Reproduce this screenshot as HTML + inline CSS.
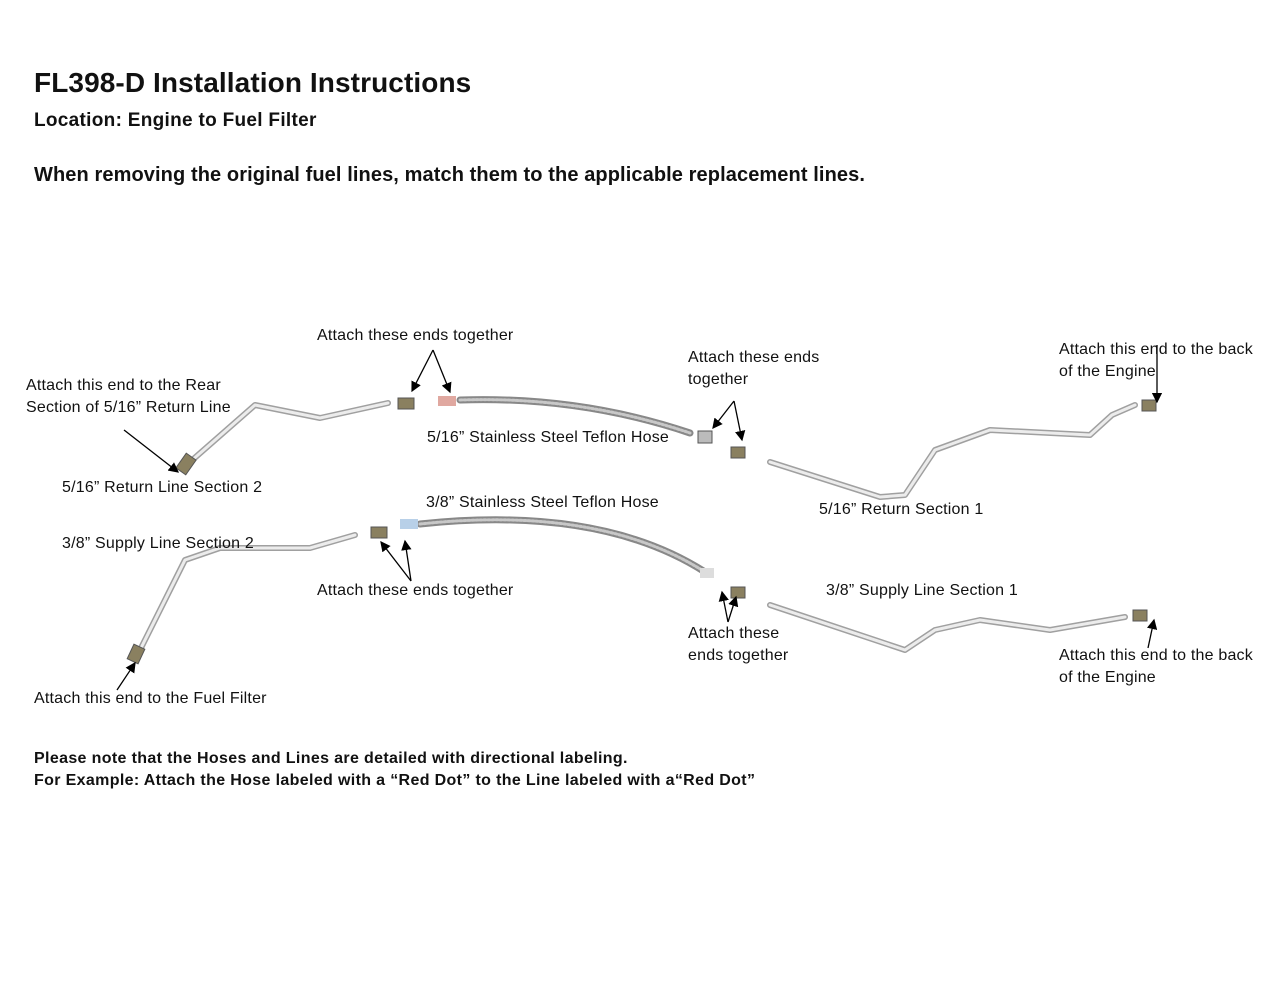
<!DOCTYPE html>
<html><head><meta charset="utf-8"><style>
body{margin:0;background:#fff;width:1280px;height:989px;position:relative;overflow:hidden;font-family:"Liberation Sans",sans-serif;color:#111}
.t{position:absolute;white-space:nowrap;font-size:16px;line-height:22px;letter-spacing:0.2px}
.b{font-weight:bold}
svg{position:absolute;left:0;top:0}
</style></head><body>
<svg width="1280" height="989">
<defs><marker id="a" markerWidth="8" markerHeight="8" refX="7" refY="4" orient="auto"><path d="M0,0 L8,4 L0,8z" fill="#000"/></marker></defs>
<g fill="none" stroke-linecap="round" stroke-linejoin="round">
<g stroke="#a0a0a0" stroke-width="6">
<path d="M190,462 L255,405 L320,418 L388,403"/>
<path d="M770,462 L880,497 L905,495 L935,450 L990,430 L1090,435 L1112,415 L1135,405"/>
<path d="M140,650 L185,560 L220,548 L310,548 L355,535"/>
<path d="M770,605 L905,650 L935,630 L980,620 L1050,630 L1125,617"/>
</g>
<g stroke="#ececec" stroke-width="3">
<path d="M190,462 L255,405 L320,418 L388,403"/>
<path d="M770,462 L880,497 L905,495 L935,450 L990,430 L1090,435 L1112,415 L1135,405"/>
<path d="M140,650 L185,560 L220,548 L310,548 L355,535"/>
<path d="M770,605 L905,650 L935,630 L980,620 L1050,630 L1125,617"/>
</g>
<path d="M460,400 Q580,396 690,433" stroke="#888" stroke-width="7"/>
<path d="M460,400 Q580,396 690,433" stroke="#c8c8c8" stroke-width="3" stroke-dasharray="2 2"/>
<path d="M420,524 Q600,505 705,572" stroke="#888" stroke-width="7"/>
<path d="M420,524 Q600,505 705,572" stroke="#c8c8c8" stroke-width="3" stroke-dasharray="2 2"/>
</g>
<g fill="#8a8060" stroke="#555" stroke-width="1">
<rect x="180" y="455" width="12" height="18" transform="rotate(35 186 464)"/>
<rect x="398" y="398" width="16" height="11"/>
<rect x="698" y="431" width="14" height="12" fill="#bbb"/>
<rect x="731" y="447" width="14" height="11"/>
<rect x="1142" y="400" width="14" height="11"/>
<rect x="371" y="527" width="16" height="11"/>
<rect x="731" y="587" width="14" height="11"/>
<rect x="1133" y="610" width="14" height="11"/>
<rect x="130" y="646" width="12" height="16" transform="rotate(25 136 654)"/>
</g>
<rect x="438" y="396" width="18" height="10" fill="#e0a8a0"/>
<rect x="400" y="519" width="18" height="10" fill="#b8d0e8"/>
<rect x="700" y="568" width="14" height="10" fill="#ddd"/>
<g stroke="#000" stroke-width="1.3" marker-end="url(#a)">
<line x1="124" y1="430" x2="178" y2="472"/>
<line x1="433" y1="350" x2="412" y2="391"/>
<line x1="433" y1="350" x2="450" y2="392"/>
<line x1="734" y1="401" x2="713" y2="428"/>
<line x1="734" y1="401" x2="742" y2="440"/>
<line x1="1157" y1="345" x2="1157" y2="402"/>
<line x1="411" y1="581" x2="381" y2="542"/>
<line x1="411" y1="581" x2="405" y2="541"/>
<line x1="728" y1="622" x2="722" y2="592"/>
<line x1="728" y1="622" x2="736" y2="597"/>
<line x1="1148" y1="648" x2="1154" y2="620"/>
<line x1="117" y1="690" x2="135" y2="663"/>
</g>
</svg>
<div class="t b" style="left:34px;top:66px;font-size:28px;line-height:34px;letter-spacing:0.1px">FL398-D Installation Instructions</div>
<div class="t b" style="left:34px;top:110px;font-size:19px;letter-spacing:0.3px">Location: Engine to Fuel Filter</div>
<div class="t b" style="left:34px;top:164px;font-size:20px;letter-spacing:0.1px">When removing the original fuel lines, match them to the applicable replacement lines.</div>
<div class="t" style="left:317px;top:325px">Attach these ends together</div>
<div class="t" style="left:26px;top:375px">Attach this end to the Rear<br>Section of 5/16” Return Line</div>
<div class="t" style="left:688px;top:347px">Attach these ends<br>together</div>
<div class="t" style="left:1059px;top:339px">Attach this end to the back<br>of the Engine</div>
<div class="t" style="left:427px;top:427px">5/16” Stainless Steel Teflon Hose</div>
<div class="t" style="left:62px;top:477px">5/16” Return Line Section 2</div>
<div class="t" style="left:426px;top:492px">3/8” Stainless Steel Teflon Hose</div>
<div class="t" style="left:819px;top:499px">5/16” Return Section 1</div>
<div class="t" style="left:62px;top:533px">3/8” Supply Line Section 2</div>
<div class="t" style="left:317px;top:580px">Attach these ends together</div>
<div class="t" style="left:826px;top:580px">3/8” Supply Line Section 1</div>
<div class="t" style="left:688px;top:623px">Attach these<br>ends together</div>
<div class="t" style="left:1059px;top:645px">Attach this end to the back<br>of the Engine</div>
<div class="t" style="left:34px;top:688px">Attach this end to the Fuel Filter</div>
<div class="t b" style="left:34px;top:748px;font-size:16px;letter-spacing:0.35px">Please note that the Hoses and Lines are detailed with directional labeling.<br>For Example: Attach the Hose labeled with a “Red Dot” to the Line labeled with a“Red Dot”</div>
</body></html>
